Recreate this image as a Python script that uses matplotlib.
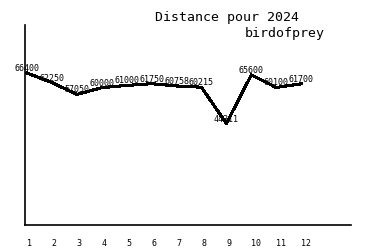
import matplotlib
matplotlib.use("Agg")
import matplotlib.pyplot as plt

# data
months = [1, 2, 3, 4, 5, 6, 7, 8, 9, 10, 11, 12]
distance = [66400, 62250, 57050, 60000, 61000, 61750, 60758, 60215, 44311, 65600, 60100, 61700]
title_line1 = "Distance pour 2024"
title_line2 = "birdofprey"

mono = "DejaVu Sans Mono"

fig = plt.figure(figsize=(3.75, 2.5), dpi=100)
ax = fig.add_axes([25 / 375, 25 / 250, 326 / 375, 200 / 250])

ax.plot(months, distance, color="black", linewidth=1.5, antialiased=False)

for m, d in zip(months, distance):
    ax.text(m, d, str(d), fontsize=6, family=mono, ha="center", va="bottom")

ax.set_xlim(0.92, 14.0)
ax.set_ylim(0, 87400)

for spine in ["top", "right"]:
    ax.spines[spine].set_visible(False)
for spine in ["left", "bottom"]:
    ax.spines[spine].set_linewidth(1.2)
    ax.spines[spine].set_color("black")

ax.set_yticks([])
ax.set_xticks(months)
ax.set_xticklabels([str(m) for m in months], family=mono, fontsize=6, ha="left")
ax.tick_params(axis="x", length=0, pad=10)

fig.text(155 / 375, 1 - 18 / 250, title_line1, family=mono, fontsize=9.5, va="center", ha="left")
fig.text(245 / 375, 1 - 33 / 250, title_line2, family=mono, fontsize=9.5, va="center", ha="left")

fig.savefig("out.png", dpi=100)
